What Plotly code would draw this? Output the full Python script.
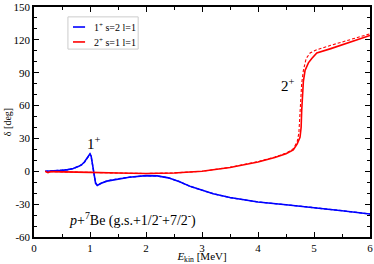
import plotly.graph_objects as go

# 1+ s=2 l=1 (solid and dashed)
e_blue = [0.2, 0.3, 0.5, 0.6, 0.7, 0.8, 0.85, 0.9, 0.95, 0.98, 1.0, 1.02, 1.05, 1.08, 1.1, 1.13,
          1.2, 1.3, 1.5, 1.7, 2.0, 2.2, 2.4, 2.6, 2.8, 3.0, 3.2, 3.5, 4.0, 4.5, 5.0, 5.5, 6.0]
d_blue = [0, 0.2, 0.8, 1.5, 2.5, 4.5, 6, 8.5, 12, 15, 16, 14, 5, -5, -11, -13,
          -11, -9, -7, -5.5, -4, -4.2, -6, -9.5, -14, -17.5, -20.5, -24, -28, -30.5, -33, -36, -39]
d_blue_dash = [0, 0.2, 0.8, 1.4, 2.4, 4.3, 5.8, 8.2, 11.6, 14.5, 15.5, 13.5, 5, -5, -10.5, -12.5,
               -10.8, -8.8, -6.8, -5.4, -4, -4.2, -6, -9.5, -14, -17.5, -20.5, -24, -28, -30.5, -33, -36, -39]

# 2+ s=1 l=1
e_red = [0.2, 0.25, 0.3, 0.5, 1.0, 1.5, 2.0, 2.5, 3.0, 3.5, 4.0, 4.3, 4.5, 4.63, 4.7, 4.75,
         4.77, 4.78, 4.79, 4.81, 4.84, 4.9, 4.96, 5.05, 5.3, 5.65, 6.0]
d_red = [0, -1.2, -0.3, -0.4, -1.0, -1.6, -2.0, -1.5, 0, 3.5, 8.5, 12.5, 16, 19.5, 25, 31,
         40, 55, 70, 82, 92, 99, 103, 108, 112, 118, 124]
e_red_dash = [0.2, 0.25, 0.3, 0.5, 1.0, 1.5, 2.0, 2.5, 3.0, 3.5, 4.0, 4.3, 4.5, 4.63, 4.7, 4.73,
              4.75, 4.76, 4.78, 4.81, 4.86, 4.93, 5.05, 5.3, 5.65, 6.0]
d_red_dash = [0, -1.2, -0.3, -0.4, -1.0, -1.6, -2.0, -1.5, 0, 3.6, 8.8, 13, 16.5, 20.5, 27, 35,
              50, 65, 80, 92, 103, 108, 111, 115, 120, 125.5]

legend_labels = ["1<sup>+</sup> s=2 l=1", "2<sup>+</sup> s=1 l=1"]
x_ticks = [0, 1, 2, 3, 4, 5, 6]
y_ticks = [-60, -30, 0, 30, 60, 90, 120, 150]

BLUE = "#0000ff"
RED = "#ff0000"
FONT = "Liberation Serif, Times New Roman, serif"

fig = go.Figure()
fig.add_trace(go.Scatter(x=e_blue, y=d_blue_dash, mode="lines", line=dict(color=BLUE, width=1.3, dash="3px,2px"),
                         showlegend=False))
fig.add_trace(go.Scatter(x=e_red_dash, y=d_red_dash, mode="lines", line=dict(color=RED, width=1.1, dash="3px,2px"),
                         showlegend=False))
fig.add_trace(go.Scatter(x=e_blue, y=d_blue, mode="lines", line=dict(color=BLUE, width=1.6),
                         name=legend_labels[0], showlegend=False))
fig.add_trace(go.Scatter(x=e_red, y=d_red, mode="lines", line=dict(color=RED, width=1.6),
                         name=legend_labels[1], showlegend=False))

axis_common = dict(showgrid=False, zeroline=False, showline=True, linecolor="black", linewidth=1.5,
                   mirror="ticks", ticks="inside", ticklen=5, tickwidth=1, tickcolor="black",
                   automargin=False,
                   tickfont=dict(family=FONT, size=11, color="black"))

fig.update_xaxes(range=[0, 6], tickvals=x_ticks, ticktext=[str(v) for v in x_ticks],
                 minor=dict(dtick=0.5, ticks="inside", ticklen=3, tickcolor="black"),
                 title=dict(text="<i>E</i><sub>kin</sub> [MeV]", font=dict(family=FONT, size=11, color="black"),
                            standoff=0),
                 **axis_common)
fig.update_yaxes(range=[-60, 150], tickvals=y_ticks, ticktext=[str(v) for v in y_ticks],
                 minor=dict(dtick=10, ticks="inside", ticklen=3, tickcolor="black"),
                 title=dict(text="δ [deg]", font=dict(family=FONT, size=10, color="black"), standoff=0),
                 **axis_common)

fig.add_annotation(x=1.07, y=26, text="1<sup>+</sup>", showarrow=False,
                   font=dict(family=FONT, size=15, color="black"))
fig.add_annotation(x=4.53, y=79, text="2<sup>+</sup>", showarrow=False,
                   font=dict(family=FONT, size=15, color="black"))
fig.add_annotation(x=1.75, y=-44, text="<i>p</i>+<sup>7</sup>Be (g.s.+1/2<sup>-</sup>+7/2<sup>-</sup>)",
                   showarrow=False, font=dict(family=FONT, size=14, color="black"))

# compact legend box (paper coordinates)
fig.add_shape(type="rect", xref="paper", yref="paper", x0=0.101, x1=0.31, y0=0.817, y1=0.957,
              line=dict(color="#cccccc", width=1), fillcolor="white", layer="above")
for i, (lab, col) in enumerate(zip(legend_labels, [BLUE, RED])):
    yy = 0.913 - i * 0.065
    fig.add_shape(type="line", xref="paper", yref="paper", x0=0.116, x1=0.152, y0=yy, y1=yy,
                  line=dict(color=col, width=1.6), layer="above")
    fig.add_annotation(xref="paper", yref="paper", x=0.172, y=yy, text=lab, showarrow=False,
                       xanchor="left", yanchor="middle", font=dict(family=FONT, size=10, color="black"))

fig.update_layout(
    width=374, height=264,
    margin=dict(l=34, r=4, t=7, b=27, autoexpand=False),
    plot_bgcolor="white", paper_bgcolor="white",
    font=dict(family=FONT, color="black"),
    showlegend=False,
)

fig.write_html("out.html", config={"displayModeBar": False},
               post_script="document.body.style.margin='0';document.body.style.padding='0';")
